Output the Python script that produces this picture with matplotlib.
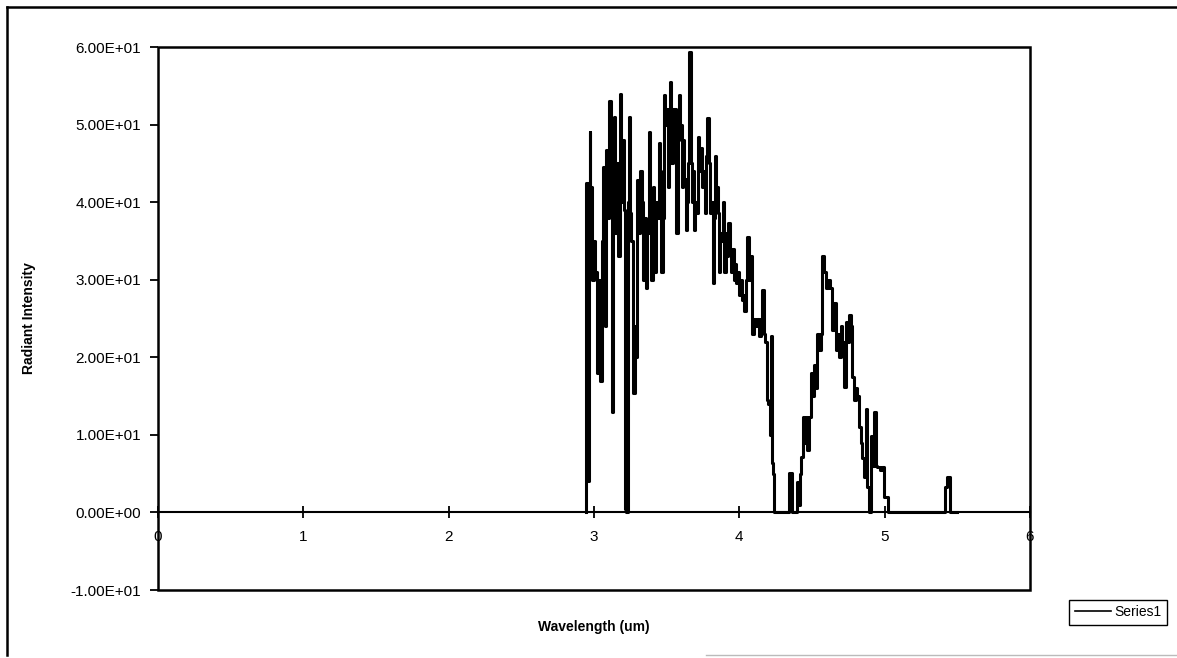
import numpy as np
import matplotlib.pyplot as plt
from matplotlib.patches import Rectangle
from matplotlib.ticker import FuncFormatter
from matplotlib.lines import Line2D

plt.rcParams['font.family'] = ['Liberation Sans', 'DejaVu Sans']

# spectrum
wavelength = [2.945, 2.952, 2.961, 2.968, 2.972, 2.979, 2.986, 2.993, 3.002, 3.014,
              3.025, 3.037, 3.048, 3.060, 3.071, 3.078, 3.087, 3.099, 3.110, 3.119,
              3.129, 3.136, 3.143, 3.152, 3.161, 3.170, 3.182, 3.191, 3.200, 3.209,
              3.216, 3.228, 3.237, 3.243, 3.250, 3.262, 3.274, 3.285, 3.294, 3.303,
              3.312, 3.324, 3.333, 3.343, 3.352, 3.361, 3.370, 3.382, 3.391, 3.400,
              3.409, 3.421, 3.430, 3.439, 3.451, 3.460, 3.469, 3.478, 3.485, 3.494,
              3.503, 3.510, 3.520, 3.526, 3.536, 3.545, 3.554, 3.563, 3.572, 3.582,
              3.588, 3.598, 3.607, 3.616, 3.626, 3.634, 3.643, 3.653, 3.660, 3.669,
              3.678, 3.685, 3.692, 3.701, 3.710, 3.720, 3.729, 3.738, 3.747, 3.756,
              3.766, 3.775, 3.784, 3.793, 3.802, 3.811, 3.821, 3.830, 3.837, 3.846,
              3.855, 3.864, 3.874, 3.883, 3.892, 3.901, 3.910, 3.919, 3.929, 3.938,
              3.947, 3.956, 3.966, 3.975, 3.984, 3.993, 4.002, 4.011, 4.021, 4.030,
              4.039, 4.048, 4.060, 4.071, 4.083, 4.094, 4.105, 4.117, 4.128, 4.140,
              4.152, 4.163, 4.175, 4.184, 4.193, 4.205, 4.214, 4.221, 4.228, 4.237,
              4.247, 4.336, 4.343, 4.352, 4.361, 4.370, 4.393, 4.405, 4.414, 4.423,
              4.432, 4.441, 4.450, 4.462, 4.474, 4.485, 4.497, 4.508, 4.519, 4.531,
              4.543, 4.554, 4.566, 4.577, 4.588, 4.600, 4.617, 4.634, 4.646, 4.657,
              4.669, 4.681, 4.692, 4.703, 4.715, 4.726, 4.738, 4.750, 4.761, 4.772,
              4.784, 4.795, 4.807, 4.818, 4.830, 4.841, 4.853, 4.864, 4.876, 4.887,
              4.899, 4.910, 4.921, 4.933, 4.945, 4.956, 4.979, 4.990, 5.002, 5.014,
              5.026, 5.410, 5.414, 5.428, 5.431, 5.448, 5.452, 5.500]
intensity = [0.0, 42.5, 4.0, 40.0, 49.0, 38.0, 42.0, 30.0, 35.0, 31.0,
             18.0, 30.0, 17.0, 35.0, 44.5, 24.0, 46.7, 38.0, 53.0, 40.0,
             13.0, 44.0, 51.0, 36.0, 45.0, 33.0, 54.0, 40.0, 48.0, 39.0,
             0.5, 0.0, 40.0, 51.0, 38.6, 35.0, 15.4, 24.0, 20.0, 42.8,
             36.0, 44.0, 40.0, 30.0, 38.0, 29.0, 36.0, 49.0, 36.0, 30.0,
             42.0, 31.0, 40.0, 38.0, 47.6, 44.0, 31.0, 38.0, 53.8, 50.0,
             52.0, 42.0, 47.0, 55.5, 45.0, 52.0, 50.0, 52.0, 36.0, 48.0,
             53.8, 50.0, 42.0, 48.0, 43.0, 36.4, 40.0, 45.0, 59.3, 45.0,
             40.0, 44.0, 36.4, 40.0, 38.6, 48.4, 44.0, 47.0, 42.0, 44.0,
             38.6, 46.0, 50.8, 45.0, 38.6, 40.0, 29.6, 38.0, 46.0, 42.0,
             38.6, 31.0, 36.0, 35.0, 40.0, 31.0, 36.0, 33.0, 37.3, 34.0,
             31.0, 34.0, 30.0, 32.0, 29.6, 31.0, 28.0, 30.0, 27.4, 28.0,
             26.0, 30.0, 35.5, 30.0, 33.0, 23.0, 25.0, 24.0, 25.0, 22.7,
             25.0, 28.7, 23.0, 22.0, 14.5, 14.0, 10.0, 22.7, 6.4, 5.0,
             0.0, 0.0, 5.1, 2.0, 5.1, 0.0, 0.0, 3.9, 1.0, 5.0,
             7.2, 12.3, 9.0, 12.3, 8.0, 12.3, 18.0, 15.0, 19.0, 16.0,
             23.0, 21.0, 23.0, 33.0, 31.0, 29.0, 30.0, 29.0, 23.5, 27.0,
             21.0, 23.0, 20.0, 24.0, 22.0, 16.2, 24.5, 22.0, 25.5, 24.0,
             17.5, 14.5, 16.0, 15.0, 11.0, 9.0, 7.0, 4.6, 13.3, 3.3,
             0.0, 9.8, 6.0, 12.9, 6.0, 5.9, 5.5, 5.9, 2.0, 2.0,
             0.0, 0.0, 3.3, 3.3, 4.6, 4.6, 0.0, 0.0]

x_ticks = [0, 1, 2, 3, 4, 5, 6]
y_ticks = [-10, 0, 10, 20, 30, 40, 50, 60]

fig = plt.figure(figsize=(11.77, 6.58), dpi=100)
ax = fig.add_axes([0.1342, 0.1033, 0.7409, 0.8252])

# steps give the blocky vertical strokes of the scanned original
ax.plot(wavelength, intensity, color='black', linewidth=2.2, drawstyle='steps-mid',
        label='Series1')

ax.set_xlim(0, 6)
ax.set_ylim(-10, 60)
ax.set_xticks(x_ticks)
ax.set_yticks(y_ticks)
ax.yaxis.set_major_formatter(FuncFormatter(lambda v, p: '%.2E' % v))

# excel style: x axis crosses at zero, plot area boxed
ax.spines['bottom'].set_position(('data', 0))
for s in ['top', 'right', 'left']:
    ax.spines[s].set_visible(False)
ax.spines['bottom'].set_linewidth(1.5)
ax.add_patch(Rectangle((0, 0), 1, 1, transform=ax.transAxes, fill=False,
                       edgecolor='black', linewidth=1.8, clip_on=False))

ax.tick_params(axis='x', direction='inout', length=9, width=1.3, labelsize=11, pad=8)
ax.tick_params(axis='y', direction='out', length=6, width=1.3, labelsize=11, pad=6)

ax.set_xlabel('Wavelength (um)', fontsize=10, fontweight='bold')
ax.xaxis.set_label_coords(0.5, -0.055)
ax.set_ylabel('Radiant Intensity', fontsize=10, fontweight='bold')
ax.yaxis.set_label_coords(-0.14, 0.5)

fig.legend(handles=[Line2D([0], [0], color='black', linewidth=1.2)], labels=['Series1'],
           loc='lower right', bbox_to_anchor=(0.997, 0.04), fontsize=10,
           frameon=True, fancybox=False, edgecolor='black', framealpha=1,
           handlelength=2.6, handletextpad=0.2, borderpad=0.4)

# outer chart border (left and top visible in scan)
fig.add_artist(Line2D([0.006, 0.006], [0.005, 0.99], color='black', linewidth=1.8))
fig.add_artist(Line2D([0.006, 1.0], [0.99, 0.99], color='black', linewidth=1.8))
fig.add_artist(Line2D([0.6, 1.0], [0.005, 0.005], color='#bbbbbb', linewidth=1))

plt.savefig('out.png', dpi=100)
